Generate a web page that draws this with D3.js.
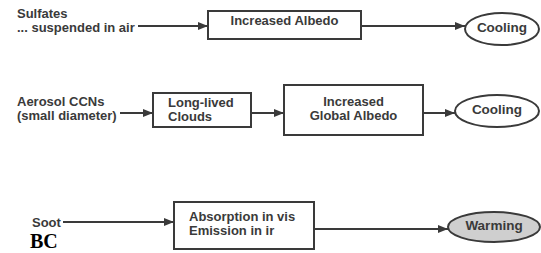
<!DOCTYPE html>
<html>
<head>
<meta charset="utf-8">
<script src="https://d3js.org/d3.v7.min.js"></script>
<style>
  body { margin: 0; background: #fff; }
  svg { display: block; }
</style>
</head>
<body>
<svg width="541" height="253"></svg>
<script>
// node labels (one entry per node, lines split by "|")
var sourceLabels = ["Sulfates|... suspended in air", "Aerosol CCNs|(small diameter)", "Soot"];
var boxLabels = ["Increased Albedo", "Long-lived|Clouds", "Increased|Global Albedo", "Absorption in vis|Emission in ir"];
var effectLabels = ["Cooling", "Cooling", "Warming"];
var effectKind = ["cool", "cool", "warm"];
var footLabel = "BC";

// layout of the diagram (kept apart from the labels)
var sourcePos = [[17, 18], [17, 106], [32, 227]];
var boxPos = [[208, 11, 153, 28], [153, 93, 98, 34], [284, 85, 139, 50], [174, 202, 140, 47]];
var boxText = [["middle", 14], ["start", 14], ["middle", 21], ["start", 19]];
var ellPos = [[502, 29, 37, 16], [497, 111, 42, 16], [494, 227, 46, 15]];
// links: [x1, y, x2] straight horizontal arrows
var links = [
  [138, 26, 208], [361, 26, 465],
  [120, 113, 153], [251, 113, 284], [423, 113, 455],
  [63, 222, 174], [314, 229, 448]
];

var svg = d3.select("svg");
var ink = "#3a3a3a";
var font = "Liberation Sans, Arial, sans-serif";

svg.append("defs").append("marker")
    .attr("id", "arrow")
    .attr("viewBox", "0 0 10 8")
    .attr("refX", 10).attr("refY", 4)
    .attr("markerWidth", 10).attr("markerHeight", 8)
    .attr("markerUnits", "userSpaceOnUse")
    .attr("orient", "auto")
  .append("path")
    .attr("d", "M0,0L10,4L0,8Z")
    .attr("fill", ink);

svg.selectAll(".link")
  .data(links)
  .enter().append("line")
    .attr("class", "link")
    .attr("x1", function(d) { return d[0]; })
    .attr("y1", function(d) { return d[1]; })
    .attr("x2", function(d) { return d[2]; })
    .attr("y2", function(d) { return d[1]; })
    .attr("stroke", ink)
    .attr("stroke-width", 2)
    .attr("marker-end", "url(#arrow)");

function addLines(sel, lh) {
  sel.selectAll("tspan")
    .data(function(d) { return d.split("|"); })
    .enter().append("tspan")
      .attr("x", function() { return d3.select(this.parentNode).attr("x"); })
      .attr("dy", function(d, i) { return i ? lh : 0; })
      .text(function(d) { return d; });
}

// sources
var src = svg.selectAll(".src")
  .data(sourceLabels)
  .enter().append("text")
    .attr("class", "src")
    .attr("x", function(d, i) { return sourcePos[i][0]; })
    .attr("y", function(d, i) { return sourcePos[i][1]; })
    .attr("font-family", font)
    .attr("font-weight", "bold")
    .attr("font-size", 13)
    .attr("fill", ink);
addLines(src, 13.5);

// boxes
var box = svg.selectAll(".box")
  .data(boxLabels)
  .enter().append("g")
    .attr("class", "box");
box.append("rect")
    .attr("x", function(d, i) { return boxPos[i][0]; })
    .attr("y", function(d, i) { return boxPos[i][1]; })
    .attr("width", function(d, i) { return boxPos[i][2]; })
    .attr("height", function(d, i) { return boxPos[i][3]; })
    .attr("fill", "#fff")
    .attr("stroke", ink)
    .attr("stroke-width", 2);
var bt = box.append("text")
    .attr("x", function(d, i) {
      return boxText[i][0] === "middle" ? boxPos[i][0] + boxPos[i][2] / 2 : boxPos[i][0] + 15;
    })
    .attr("y", function(d, i) { return boxPos[i][1] + boxText[i][1]; })
    .attr("text-anchor", function(d, i) { return boxText[i][0]; })
    .attr("font-family", font)
    .attr("font-weight", "bold")
    .attr("font-size", 13)
    .attr("fill", ink);
addLines(bt, 13.5);

// effects
var eff = svg.selectAll(".eff")
  .data(effectLabels)
  .enter().append("g")
    .attr("class", "eff");
eff.append("ellipse")
    .attr("cx", function(d, i) { return ellPos[i][0]; })
    .attr("cy", function(d, i) { return ellPos[i][1]; })
    .attr("rx", function(d, i) { return ellPos[i][2]; })
    .attr("ry", function(d, i) { return ellPos[i][3]; })
    .attr("fill", function(d, i) { return effectKind[i] === "warm" ? "#cfcfcf" : "#fff"; })
    .attr("stroke", ink)
    .attr("stroke-width", 2);
eff.append("text")
    .attr("x", function(d, i) { return ellPos[i][0]; })
    .attr("y", function(d, i) { return ellPos[i][1] + 3; })
    .attr("text-anchor", "middle")
    .attr("font-family", font)
    .attr("font-weight", "bold")
    .attr("font-size", 13.5)
    .attr("fill", ink)
    .text(function(d) { return d; });

svg.append("text")
    .attr("x", 30)
    .attr("y", 248)
    .attr("font-family", "Liberation Serif, Times New Roman, serif")
    .attr("font-weight", "bold")
    .attr("font-size", 20)
    .attr("fill", "#000")
    .text(footLabel);
</script>
</body>
</html>
